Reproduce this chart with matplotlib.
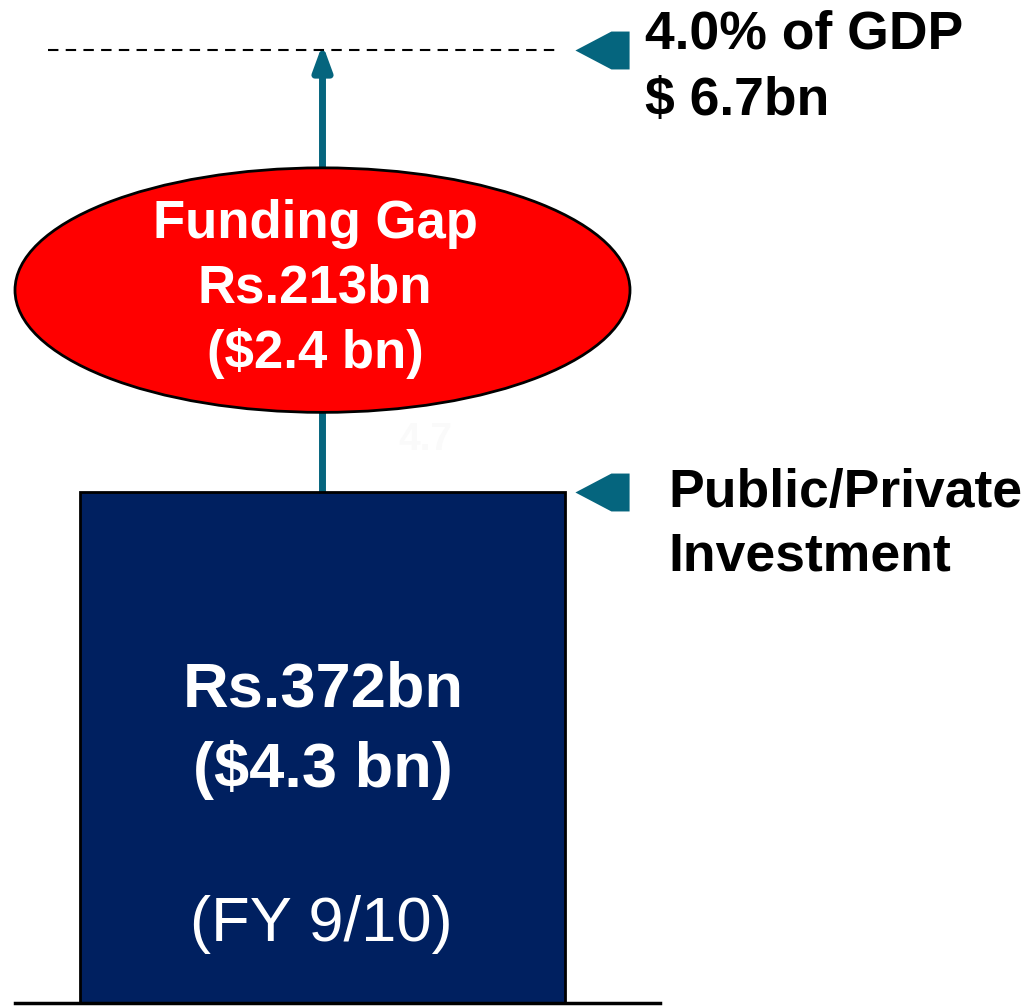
"""
funding_gap.py - 投资缺口示意图
"""

import matplotlib
matplotlib.use('Agg')
import matplotlib.pyplot as plt
from matplotlib.patches import Ellipse
from matplotlib.path import Path

plt.rcParams['font.family'] = ['Liberation Sans', 'DejaVu Sans']

# values (Rs bn) and labels
public_investment = 372
funding_gap = 213
target_level = 694          # drawn level of the 4.0% of GDP line (chart not to scale)
bar_labels = ['Rs.372bn', '($4.3 bn)']
bar_period = '(FY 9/10)'
gap_labels = ['Funding Gap', 'Rs.213bn', '($2.4 bn)']
target_labels = ['4.0% of GDP', '$ 6.7bn']
investment_labels = ['Public/Private', 'Investment']
hidden_label = '4.7'

navy = '#002060'
teal = '#05657E'
red = '#FF0000'

figure = plt.figure(figsize=(10.24, 10.07), dpi=100)
axis = figure.add_axes([0, 0, 1, 1])
axis.set_xlim(0, 1024)
axis.set_ylim(-2.9, 730.2)
axis.axis('off')

bar_x = 322.5
axis.bar([bar_x], [public_investment], width=485, color=navy, edgecolor='black', linewidth=2, zorder=3)
axis.plot([15, 660], [-0.3, -0.3], color='black', linewidth=2.5, zorder=4)

# arrow from bar top to target line
axis.annotate('', xy=(bar_x, target_level + 4), xytext=(bar_x, public_investment),
              arrowprops=dict(arrowstyle='-|>,head_width=0.55,head_length=1.5', color=teal,
                              linewidth=5, shrinkA=0, shrinkB=0), zorder=2)
axis.plot([48, 560], [target_level, target_level], color='black', linestyle=(0, (5, 3.5)), linewidth=1.5, zorder=1)

# funding gap bubble
gap_center = public_investment + 147
axis.add_patch(Ellipse((bar_x, gap_center), width=615, height=178, facecolor=red, edgecolor='black', linewidth=2, zorder=5))
for label, y in zip(gap_labels, [gap_center + 48, gap_center + 1, gap_center - 46]):
    axis.text(315, y, label, color='white', fontsize=38, fontweight='bold', ha='center', va='center', zorder=6)
axis.text(425, 410, hidden_label, color='#fafafa', fontsize=28, fontweight='bold', ha='center', va='center')

# pointer markers
pointer = Path([(-1, 0), (0.33, 0.7), (1, 0.7), (1, -0.7), (0.33, -0.7), (-1, 0)])
axis.plot([602, 602], [target_level, public_investment], linestyle='none', marker=pointer,
          markersize=39, color=teal, markeredgewidth=0, zorder=4)

for label, y in zip(target_labels, [705, 657]):
    axis.text(645, y, label, color='black', fontsize=38.5, fontweight='bold', ha='left', va='center')
for label, y in zip(investment_labels, [371, 325]):
    axis.text(668, y, label, color='black', fontsize=38.5, fontweight='bold', ha='left', va='center')

for label, y in zip(bar_labels, [228, 170]):
    axis.text(323, y, label, color='white', fontsize=45.5, fontweight='bold', ha='center', va='center', zorder=6)
axis.text(321, 57, bar_period, color='white', fontsize=45.5, ha='center', va='center', zorder=6)

figure.savefig('out.png', dpi=100, facecolor='white')
plt.close(figure)
